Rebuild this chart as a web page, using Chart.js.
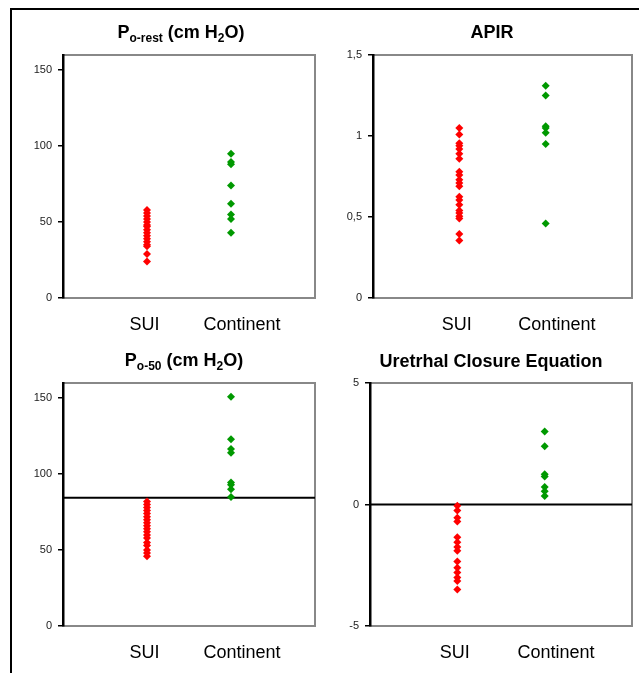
<!DOCTYPE html>
<html>
<head>
<meta charset="utf-8">
<script src="https://cdn.jsdelivr.net/npm/chart.js@4"></script>
<style>
  body { margin: 0; background: #fff; }
  #wrap { position: relative; width: 639px; height: 673px; overflow: hidden; }
  #frame { position: absolute; left: 10px; top: 8px; width: 700px; height: 700px;
           border-left: 2px solid #000; border-top: 2px solid #000; }
  canvas { position: absolute; }
</style>
</head>
<body>
<div id="wrap">
  <div id="frame"></div>
  <canvas id="c1" style="left:0;top:0"></canvas>
  <canvas id="c2" style="left:320px;top:0"></canvas>
  <canvas id="c3" style="left:0;top:340px"></canvas>
  <canvas id="c4" style="left:320px;top:340px"></canvas>
</div>
<script>
// groups
const groups = ['SUI', 'Continent'];

// P o-rest (cm H2O)
const suiRest = [58, 56, 54, 52, 50, 48, 47, 45, 43, 41, 39, 37, 35, 34, 29, 24];
const contRest = [95, 89.5, 88, 74, 62, 55, 52, 43];
const ticksRest = [0, 50, 100, 150];

// APIR
const suiApir = [1.05, 1.01, 0.955, 0.94, 0.92, 0.89, 0.86, 0.78, 0.76, 0.73, 0.71, 0.69,
                 0.625, 0.605, 0.575, 0.54, 0.525, 0.505, 0.49, 0.395, 0.355];
const contApir = [1.31, 1.25, 1.06, 1.05, 1.02, 0.95, 0.46];
const ticksApir = [0, 0.5, 1, 1.5];

// P o-50 (cm H2O)
const suiP50 = [82, 80, 78, 76, 74, 72, 70, 68, 66, 64, 62, 60, 58, 55, 53, 50, 48, 46];
const contP50 = [151, 123, 116.5, 114, 94.5, 93, 90, 85];
const ticksP50 = [0, 50, 100, 150];
const cutP50 = 84.5;

// Urethral Closure Equation
const suiUce = [-0.05, -0.25, -0.55, -0.7, -1.35, -1.55, -1.75, -1.9, -2.35, -2.6, -2.8, -3.0, -3.15, -3.5];
const contUce = [3.0, 2.4, 1.25, 1.15, 0.72, 0.55, 0.35];
const ticksUce = [-5, 0, 5];
const cutUce = 0;

// where the group labels sit along the x axis (0..3 range)
const labelPos = [0.97, 2.13];

const RED = '#ff0000';
const GREEN = '#009900';

const panelPlugin = {
  id: 'panel',
  beforeDraw(chart, args, opts) {
    const a = chart.chartArea, c = chart.ctx;
    c.save();
    c.strokeStyle = '#888888';
    c.lineWidth = 2;
    c.strokeRect(a.left, a.top, a.right - a.left, a.bottom - a.top);
    c.restore();
  },
  afterDraw(chart, args, opts) {
    const c = chart.ctx;
    c.save();
    c.fillStyle = '#000';
    c.textBaseline = 'alphabetic';
    const big = 'bold 18px Arial, "Liberation Sans", sans-serif';
    const small = 'bold 12px Arial, "Liberation Sans", sans-serif';
    let w = 0;
    opts.parts.forEach(p => { c.font = p[1] ? small : big; w += c.measureText(p[0]).width; });
    let x = opts.x - w / 2;
    opts.parts.forEach(p => {
      c.font = p[1] ? small : big;
      c.fillText(p[0], x, opts.y + (p[1] ? 4 : 0));
      x += c.measureText(p[0]).width;
    });
    c.restore();
  }
};

function makeChart(id, w, h, area, sui, cont, ticks, fmt, title, cut) {
  const el = document.getElementById(id);
  el.width = w; el.height = h;
  el.style.width = w + 'px'; el.style.height = h + 'px';
  const datasets = [
    { data: sui.map(v => ({ x: 1, y: v })), backgroundColor: RED, borderColor: RED,
      pointStyle: 'rectRot', pointRadius: 4, borderWidth: 0, order: 1 },
    { data: cont.map(v => ({ x: 2, y: v })), backgroundColor: GREEN, borderColor: GREEN,
      pointStyle: 'rectRot', pointRadius: 4, borderWidth: 0, order: 1 }
  ];
  if (cut !== undefined) {
    datasets.push({ type: 'line', data: [{ x: 0, y: cut }, { x: 3, y: cut }],
      borderColor: '#000', borderWidth: 2, pointRadius: 0, order: 2 });
  }
  return new Chart(el, {
    type: 'scatter',
    data: { datasets },
    plugins: [panelPlugin],
    options: {
      responsive: false,
      animation: false,
      layout: { padding: { left: 0, top: area.top, right: w - area.right, bottom: 0 } },
      scales: {
        x: {
          type: 'linear', min: 0, max: 3,
          afterFit: s => { s.height = h - area.bottom; },
          afterBuildTicks: s => { s.ticks = labelPos.map(v => ({ value: v })); },
          grid: { display: false },
          border: { color: '#888888', width: 2 },
          ticks: {
            padding: 8,
            color: '#000',
            font: { family: 'Arial, "Liberation Sans", sans-serif', size: 18 },
            callback: (v, i) => groups[i]
          }
        },
        y: {
          min: ticks[0], max: area.max,
          afterFit: s => { s.width = area.left; },
          afterBuildTicks: s => { s.ticks = ticks.map(v => ({ value: v })); },
          grid: { drawOnChartArea: false, drawTicks: true, tickLength: 5, color: '#000', lineWidth: 1.5 },
          border: { color: '#000', width: 2.5 },
          ticks: {
            padding: 6,
            color: '#222',
            font: { family: 'Arial, "Liberation Sans", sans-serif', size: 11 },
            callback: fmt
          }
        }
      },
      plugins: {
        legend: { display: false },
        tooltip: { enabled: false },
        panel: title
      }
    }
  });
}

const plain = v => String(v);
const comma = v => String(v).replace('.', ',');

makeChart('c1', 320, 340, { left: 63, right: 315, top: 55, bottom: 298, max: 160 },
  suiRest, contRest, ticksRest, plain,
  { x: 181, y: 38, parts: [['P', false], ['o-rest', true], [' (cm H', false], ['2', true], ['O)', false]] });

makeChart('c2', 319, 340, { left: 53, right: 312, top: 55, bottom: 298, max: 1.5 },
  suiApir, contApir, ticksApir, comma,
  { x: 172, y: 38, parts: [['APIR', false]] });

makeChart('c3', 320, 333, { left: 63, right: 315, top: 43, bottom: 286, max: 160 },
  suiP50, contP50, ticksP50, plain,
  { x: 184, y: 26, parts: [['P', false], ['o-50', true], [' (cm H', false], ['2', true], ['O)', false]] },
  cutP50);

makeChart('c4', 319, 333, { left: 50, right: 312, top: 43, bottom: 286, max: 5 },
  suiUce, contUce, ticksUce, plain,
  { x: 171, y: 27, parts: [['Uretrhal Closure Equation', false]] },
  cutUce);
</script>
</body>
</html>
